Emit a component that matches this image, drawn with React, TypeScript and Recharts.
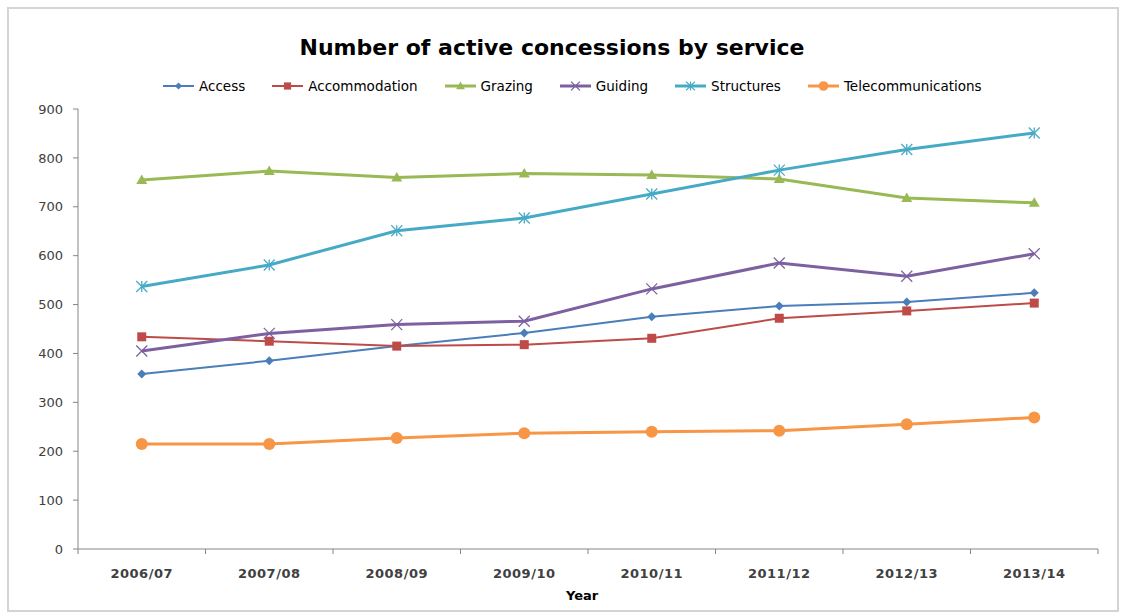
import { LineChart, Line, XAxis, YAxis } from "recharts";

const years = ["2006/07", "2007/08", "2008/09", "2009/10", "2010/11", "2011/12", "2012/13", "2013/14"];
const access = [358, 385, 415, 442, 475, 497, 505, 524];
const accommodation = [434, 425, 415, 418, 431, 472, 487, 503];
const grazing = [755, 773, 760, 768, 765, 757, 718, 708];
const guiding = [405, 441, 459, 466, 532, 585, 558, 604];
const structures = [537, 581, 651, 677, 726, 775, 817, 851];
const telecom = [215, 215, 227, 237, 240, 242, 255, 269];
const yTicks = [0, 100, 200, 300, 400, 500, 600, 700, 800, 900];
const labelTicks = [0, 1, 2, 3, 4, 5, 6, 7];
const boundaryTicks = [-0.5, 0.5, 1.5, 2.5, 3.5, 4.5, 5.5, 6.5, 7.5];

type Kind = "diamond" | "square" | "triangle" | "x" | "star" | "circle";

const series: { key: string; name: string; color: string; kind: Kind; width: number }[] = [
  { key: "access", name: "Access", color: "#4a7ebb", kind: "diamond", width: 2 },
  { key: "accommodation", name: "Accommodation", color: "#be4b48", kind: "square", width: 2 },
  { key: "grazing", name: "Grazing", color: "#98b954", kind: "triangle", width: 3 },
  { key: "guiding", name: "Guiding", color: "#7d60a0", kind: "x", width: 3 },
  { key: "structures", name: "Structures", color: "#46aac5", kind: "star", width: 3 },
  { key: "telecom", name: "Telecommunications", color: "#f79646", kind: "circle", width: 3 },
];

const data = years.map((year, i) => ({
  i,
  year,
  access: access[i],
  accommodation: accommodation[i],
  grazing: grazing[i],
  guiding: guiding[i],
  structures: structures[i],
  telecom: telecom[i],
}));

function marker(kind: Kind, cx: number, cy: number, color: string, s: number, key?: string) {
  switch (kind) {
    case "diamond":
      return <polygon key={key} points={`${cx},${cy - s} ${cx + s},${cy} ${cx},${cy + s} ${cx - s},${cy}`} fill={color} />;
    case "square":
      return <rect key={key} x={cx - s} y={cy - s} width={2 * s} height={2 * s} fill={color} />;
    case "triangle":
      return <polygon key={key} points={`${cx},${cy - s * 1.1} ${cx + s * 1.1},${cy + s * 0.8} ${cx - s * 1.1},${cy + s * 0.8}`} fill={color} />;
    case "x":
      return (
        <g key={key} stroke={color} strokeWidth={1.3}>
          <line x1={cx - s} y1={cy - s} x2={cx + s} y2={cy + s} />
          <line x1={cx - s} y1={cy + s} x2={cx + s} y2={cy - s} />
        </g>
      );
    case "star":
      return (
        <g key={key} stroke={color} strokeWidth={1.3}>
          <line x1={cx - s} y1={cy - s} x2={cx + s} y2={cy + s} />
          <line x1={cx - s} y1={cy + s} x2={cx + s} y2={cy - s} />
          <line x1={cx} y1={cy - s} x2={cx} y2={cy + s} />
        </g>
      );
    default:
      return <circle key={key} cx={cx} cy={cy} r={s} fill={color} />;
  }
}

const sizes: Record<Kind, number> = { diamond: 4.5, square: 4.5, triangle: 5, x: 5.5, star: 5.5, circle: 6 };

export default function App() {
  const font = "'DejaVu Sans', sans-serif";
  return (
    <div style={{ position: "absolute", left: 0, top: 0, width: 1129, height: 614, background: "#fff", fontFamily: font }}>
      <div style={{ position: "absolute", left: 7, top: 7, width: 1108, height: 601, border: "2px solid #d4d4d4" }} />
      <div style={{ position: "absolute", left: 0, top: 35, width: 1104, textAlign: "center", fontSize: 22, fontWeight: "bold", color: "#000" }}>
        Number of active concessions by service
      </div>
      <div style={{ position: "absolute", left: 163, top: 78, display: "flex", alignItems: "center", gap: 27, fontSize: 13.5, color: "#000" }}>
        {series.map((s) => (
          <div key={s.key} style={{ display: "flex", alignItems: "center" }}>
            <svg width={31} height={14} style={{ marginRight: 5 }}>
              <line x1={0} y1={7} x2={31} y2={7} stroke={s.color} strokeWidth={s.width} />
              {marker(s.kind, 15.5, 7, s.color, sizes[s.kind] * 0.8)}
            </svg>
            <span>{s.name}</span>
          </div>
        ))}
      </div>
      <div style={{ position: "absolute", left: 0, top: 0 }}>
        <LineChart width={1129} height={614} data={data} margin={{ top: 109, right: 31, bottom: 35, left: 20 }}>
          <XAxis
            xAxisId="grid"
            type="number"
            dataKey="i"
            domain={[-0.5, 7.5]}
            ticks={boundaryTicks}
            height={1}
            tickFormatter={() => ""}
            tickSize={5}
            stroke="#868686"
            tickLine={{ stroke: "#868686" }}
            axisLine={{ stroke: "#868686" }}
          />
          <XAxis
            xAxisId="lab"
            type="number"
            dataKey="i"
            domain={[-0.5, 7.5]}
            ticks={labelTicks}
            height={29}
            tickLine={false}
            axisLine={false}
            tickSize={0}
            tickMargin={19}
            tickFormatter={(v: number) => years[v]}
            tick={{ fontSize: 13, fontWeight: "bold", fill: "#404040", fontFamily: font, letterSpacing: 0.5 }}
          />
          <YAxis
            type="number"
            domain={[0, 900]}
            ticks={yTicks}
            width={58}
            tickSize={5}
            tickMargin={10}
            stroke="#868686"
            tick={{ fontSize: 13, fill: "#404040", fontFamily: font }}
          />
          {series.map((s) => (
            <Line
              key={s.key}
              xAxisId="lab"
              dataKey={s.key}
              name={s.name}
              stroke={s.color}
              strokeWidth={s.width}
              isAnimationActive={false}
              activeDot={false}
              dot={(p: any) => marker(s.kind, p.cx, p.cy, s.color, sizes[s.kind], `${s.key}-${p.index}`)}
            />
          ))}
        </LineChart>
      </div>
      <div style={{ position: "absolute", left: 566, top: 588, fontSize: 13, fontWeight: "bold", color: "#000" }}>Year</div>
    </div>
  );
}
